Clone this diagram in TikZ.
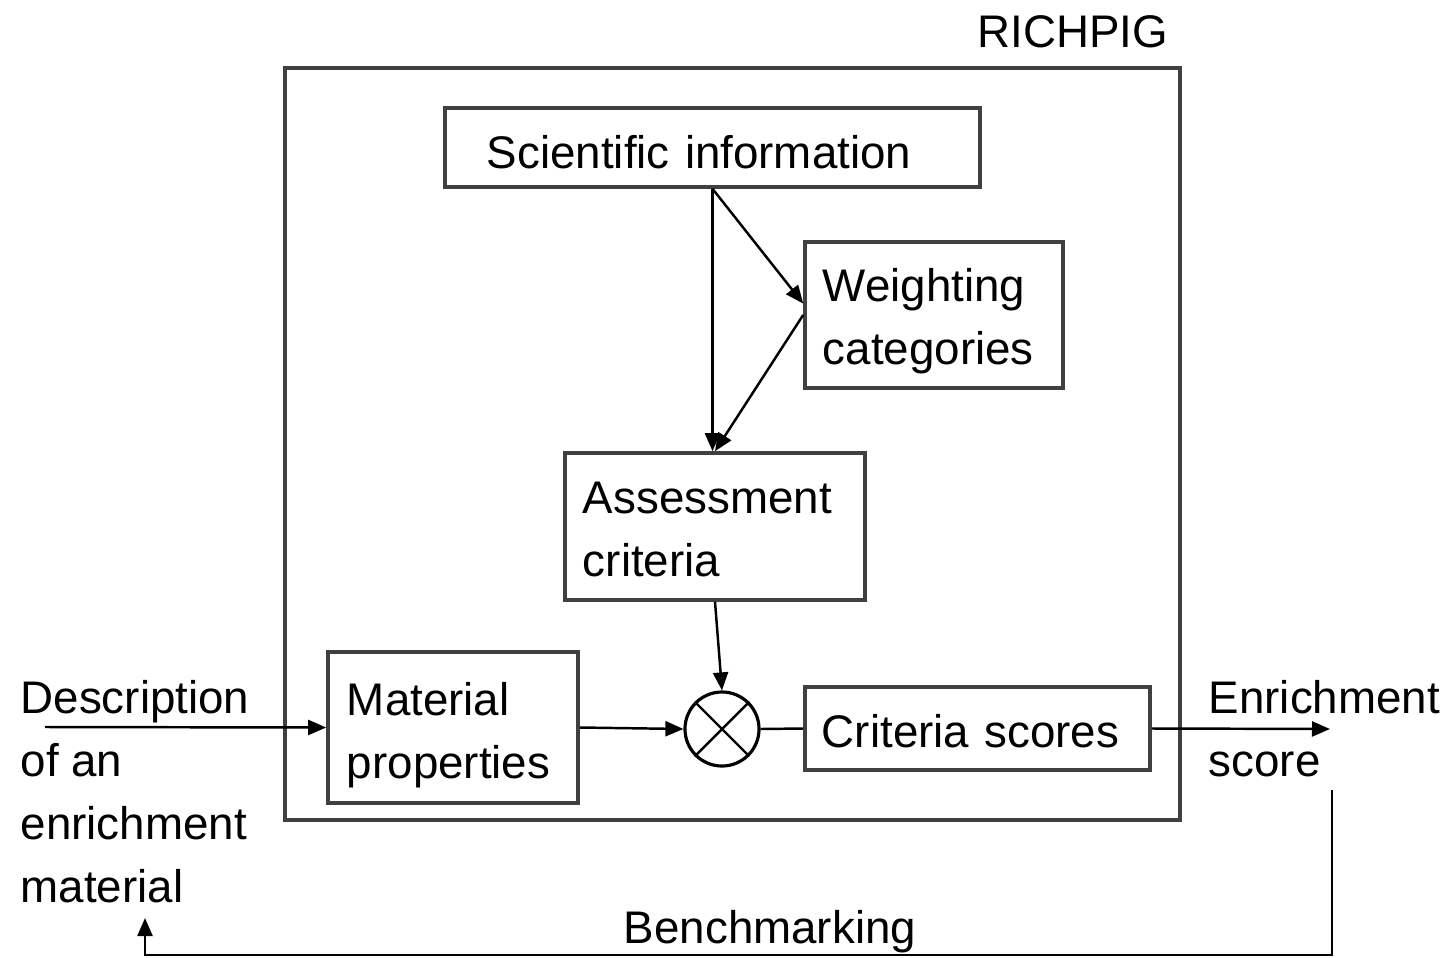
\documentclass[tikz,border=0pt]{standalone}
\usepackage{fontspec}
\setmainfont{Liberation Sans}
\usetikzlibrary{arrows.meta}
\tikzset{
    block/.style={draw=black!75, line width=1pt, align=left, inner ysep=0pt, font=\fontsize{13pt}{17.9pt}\selectfont},
    lowtext/.style={execute at begin node={\rule{0pt}{#1}}},
    label/.style={inner sep=0pt, align=left, font=\fontsize{13pt}{17.9pt}\selectfont},
    conn/.style={line width=0.7pt, -{Triangle[length=0.18cm, width=0.15cm]}},
    plain/.style={line width=0.7pt}
}
\begin{document}
\begin{tikzpicture}[x=0.01cm, y=-0.01cm]
            \useasboundingbox (0,0) rectangle (1448,957);
            \node[draw=black!75, line width=1.1pt, minimum width=8.95cm, minimum height=7.52cm] (richpig) at (732.5,444) {};
            \node[label] (richpigname) at (1073,32) {RICHPIG};
            \node[block, lowtext=0.42cm, inner xsep=0.42cm, text width=4.51cm, minimum height=0.79cm] (sci) at (712.5,147.5) {Scientific information};
            \node[block, lowtext=0.46cm, inner xsep=0.18cm, text width=2.22cm, minimum height=1.46cm] (weight) at (934,315) {Weighting\\categories};
            \node[block, lowtext=0.38cm, inner xsep=0.18cm, text width=2.64cm, minimum height=1.47cm] (assess) at (715,526.5) {Assessment\\criteria};
            \node[block, lowtext=0.48cm, inner xsep=0.19cm, text width=2.12cm, minimum height=1.51cm] (mat) at (453,727.5) {Material\\properties};
            \node[draw=black, line width=0.9pt, circle, minimum size=0.74cm, inner sep=0pt] (mult) at (722,729) {};
            \draw[plain] (mult.north west) -- (mult.south east);
            \draw[plain] (mult.north east) -- (mult.south west);
            \node[block, lowtext=0.38cm, inner xsep=0.17cm, text width=3.11cm, minimum height=0.83cm] (crit) at (977.5,728.5) {Criteria scores};
            \node[label, anchor=west] (desc) at (20,792) {Description\\of an\\enrichment\\material};
            \node[label, anchor=west] (score) at (1208,729) {Enrichment\\score};
            \node[label] (bench) at (770,932) {Benchmarking};
            \coordinate (descin) at (45,727);
            \coordinate (scoreout) at (1330,729);
            \coordinate (bmstart) at (1332,790);
            \coordinate (bmcorner) at (1332,955);
            \coordinate (bmend) at (145,918);
            \draw[conn] (sci.south) -- (sci.south |- assess.north);
            \draw[conn] (sci.south) -- (weight.175);
            \draw[conn] (weight.west) -- (assess.north);
            \draw[conn] (descin) -- (mat.west);
            \draw[conn] (mat.east) -- (mult.west);
            \draw[conn] (assess.south) -- (mult.north);
            \draw[plain] (mult.east) -- (crit.west);
            \draw[conn] (crit.east) -- (scoreout);
            \draw[conn] (bmstart) -- (bmcorner) -| (bmend);
        \end{tikzpicture}
\end{document}
